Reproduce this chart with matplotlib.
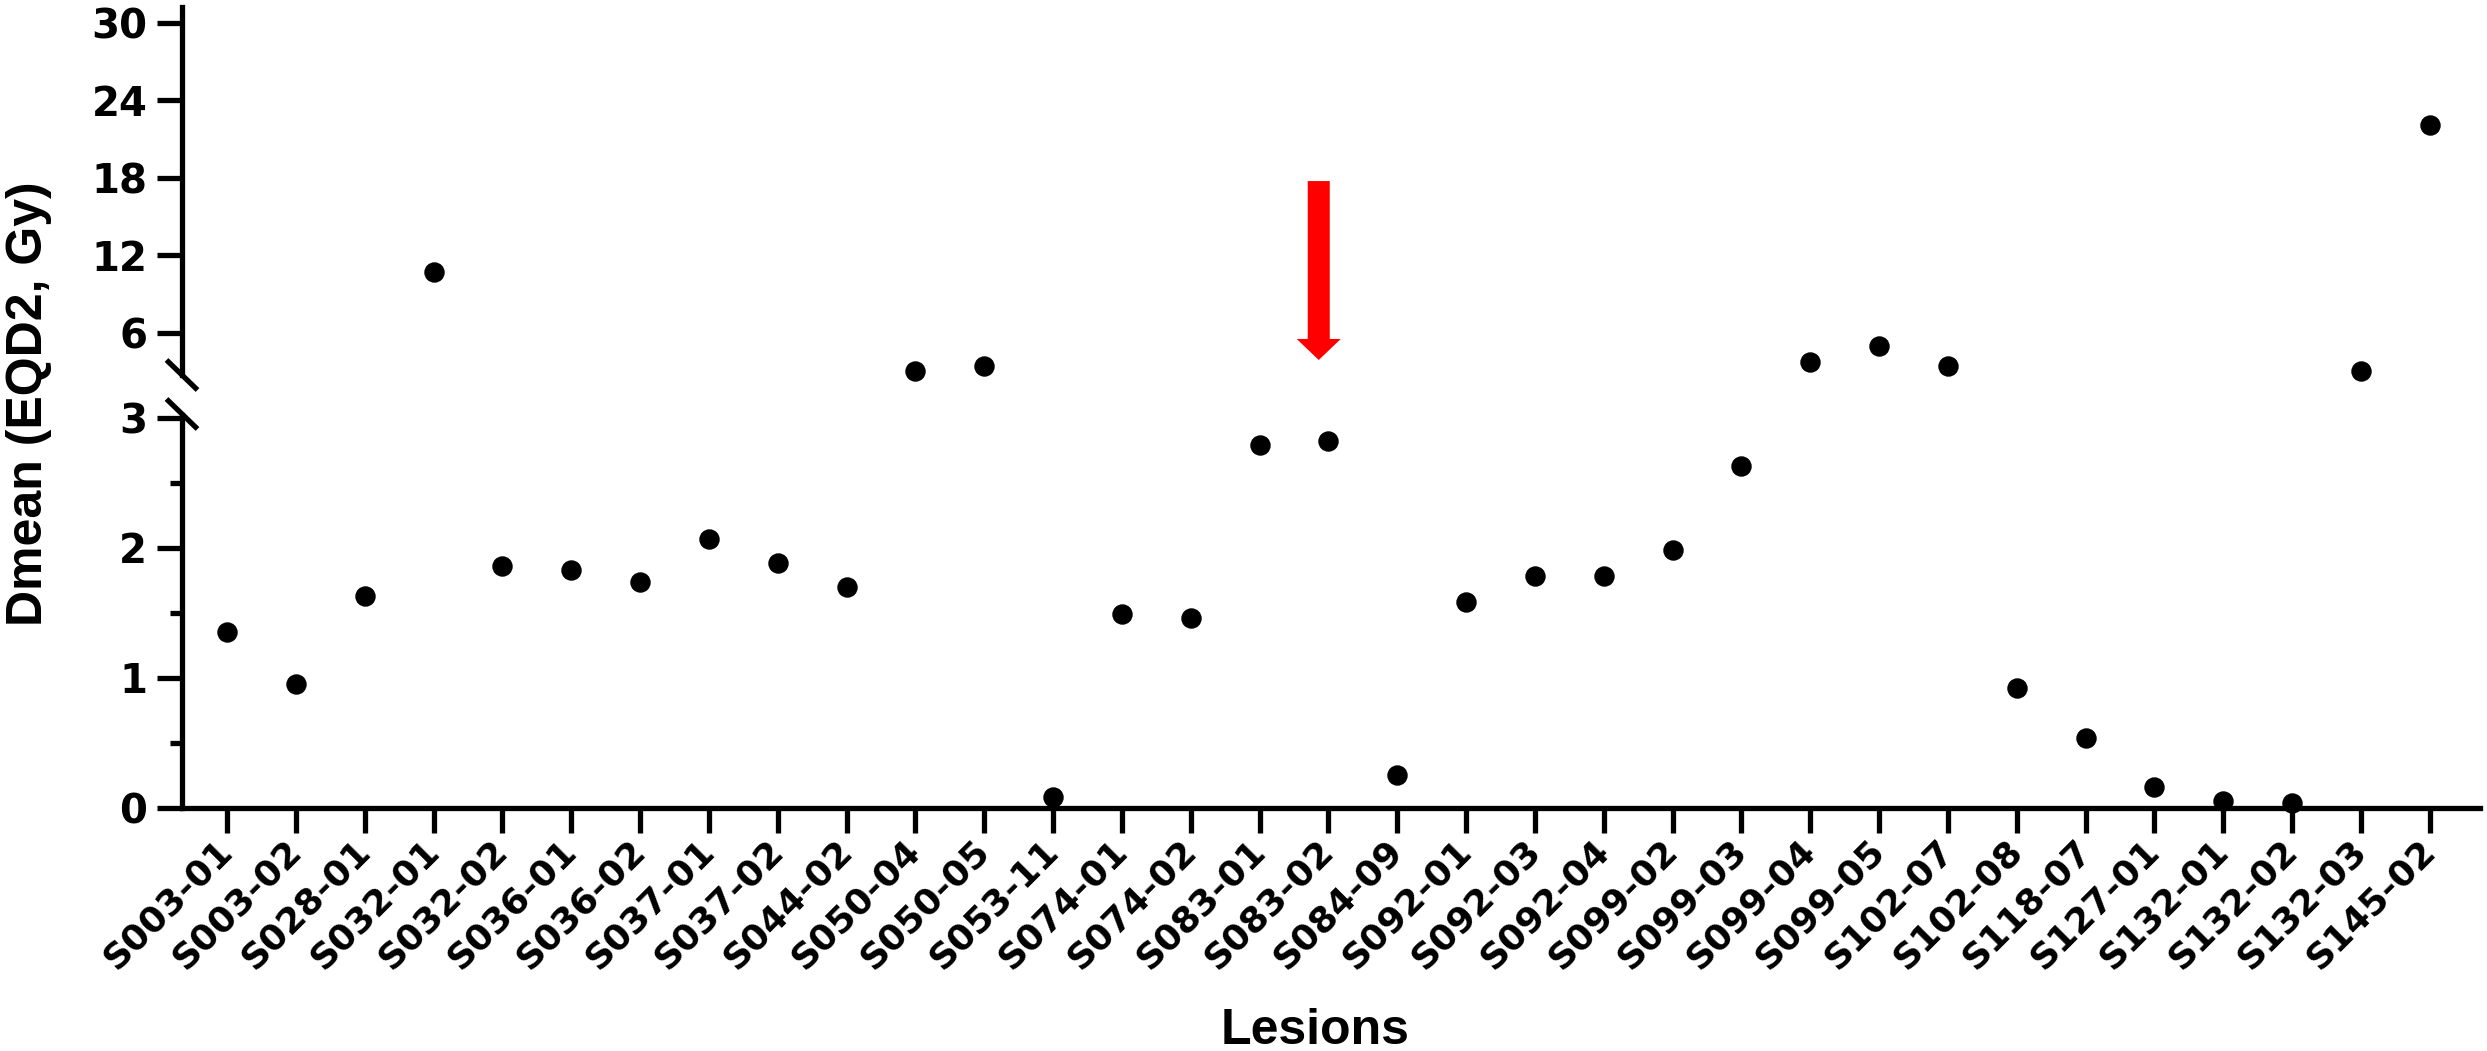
import numpy as np
import matplotlib
matplotlib.use("Agg")
import matplotlib.pyplot as plt
from matplotlib.lines import Line2D
from matplotlib.patches import FancyArrow

# ---------------- data ----------------
lesions = ["S003-01", "S003-02", "S028-01", "S032-01", "S032-02", "S036-01", "S036-02",
           "S037-01", "S037-02", "S044-02", "S050-04", "S050-05", "S053-11", "S074-01",
           "S074-02", "S083-01", "S083-02", "S084-09", "S092-01", "S092-03", "S092-04",
           "S099-02", "S099-03", "S099-04", "S099-05", "S102-07", "S102-08", "S118-07",
           "S127-01", "S132-01", "S132-02", "S132-03", "S145-02"]
dmean = [1.35, 0.95, 1.63, 10.72, 1.86, 1.83, 1.74,
         2.07, 1.88, 1.70, 3.04, 3.41, 0.08, 1.49,
         1.46, 2.79, 2.82, 0.25, 1.58, 1.78, 1.78,
         1.98, 2.63, 3.77, 5.00, 3.41, 0.92, 0.54,
         0.16, 0.05, 0.04, 3.04, 22.10]
lower_ticks = [0, 1, 2, 3]
lower_minor = [0.5, 1.5, 2.5]
upper_ticks = [6, 12, 18, 24, 30]
break_value = 3
highlight = "S083-02"
arrow_top, arrow_tip = 17.76, 3.91

# ---------------- layout ----------------
W, H = 2487, 1051
fig = plt.figure(figsize=(W / 100, H / 100), dpi=100)

def fx(px):
    return px / W

def fy(py):
    return 1 - py / H

left, right = 182, 2480
ax_lo = fig.add_axes([fx(left), fy(807.7), fx(right) - fx(left), fy(415) - fy(807.7)])
ax_hi = fig.add_axes([fx(left), fy(375), fx(right) - fx(left), fy(7) - fy(375)])

x = np.arange(len(lesions))
vals = np.array(dmean)
lo_mask = vals <= break_value
hi_mask = ~lo_mask

ms = 13.7
ax_lo.plot(x[lo_mask], vals[lo_mask], 'o', color='black', markersize=ms, clip_on=False, zorder=5)
ax_hi.plot(x[hi_mask], vals[hi_mask], 'o', color='black', markersize=ms, clip_on=False, zorder=5)

xlim = (-0.654, 32.73)
for ax in (ax_lo, ax_hi):
    ax.set_xlim(*xlim)
    for s in ("top", "right"):
        ax.spines[s].set_visible(False)
    ax.spines["left"].set_linewidth(3.8)
    ax.spines["bottom"].set_linewidth(3.8)
    ax.tick_params(axis="y", direction="out", length=18, width=3.8, labelsize=29, pad=7)

ax_lo.set_ylim(0, 3.023)
ax_lo.set_yticks(lower_ticks)
ax_lo.set_yticks(lower_minor, minor=True)
ax_lo.tick_params(axis="y", which="minor", direction="out", length=9, width=3.8)
ax_lo.set_xticks(x)
ax_lo.set_xticklabels(lesions, rotation=45, ha="right", va="center", rotation_mode="anchor",
                      fontsize=26, fontweight="bold", family="DejaVu Sans")
ax_lo.tick_params(axis="x", direction="out", length=18, width=3.8, pad=9)

ax_hi.set_ylim(2.75, 31.23)
ax_hi.set_yticks(upper_ticks)
ax_hi.spines["bottom"].set_visible(False)
ax_hi.set_xticks([])
ax_hi.patch.set_alpha(0)

for ax in (ax_lo, ax_hi):
    for lab in ax.get_yticklabels():
        lab.set_fontweight("heavy")
        lab.set_family("DejaVu Sans")

# break marks
for cy in (375, 414):
    fig.add_artist(Line2D([fx(left - 15.5), fx(left + 15.5)], [fy(cy - 15), fy(cy + 15)],
                          transform=fig.transFigure, color="black", lw=3.8,
                          solid_capstyle="butt"))

# red arrow
xi = lesions.index(highlight) - 0.14
ax_hi.add_patch(FancyArrow(xi, arrow_top, 0, arrow_tip - arrow_top, width=0.32,
                           head_width=0.64, head_length=1.63, length_includes_head=True,
                           color="#ff0000", lw=0, clip_on=False, zorder=6))

# axis labels
fig.text(fx(29), fy(404), "Dmean (EQD2, Gy)", rotation=90, ha="center", va="center",
         fontsize=36, fontweight="bold", family=["Liberation Sans", "DejaVu Sans"])
fig.text(fx(1315), fy(1031), "Lesions", ha="center", va="center",
         fontsize=36, fontweight="bold", family=["Liberation Sans", "DejaVu Sans"])

fig.savefig("out.png", dpi=100)
